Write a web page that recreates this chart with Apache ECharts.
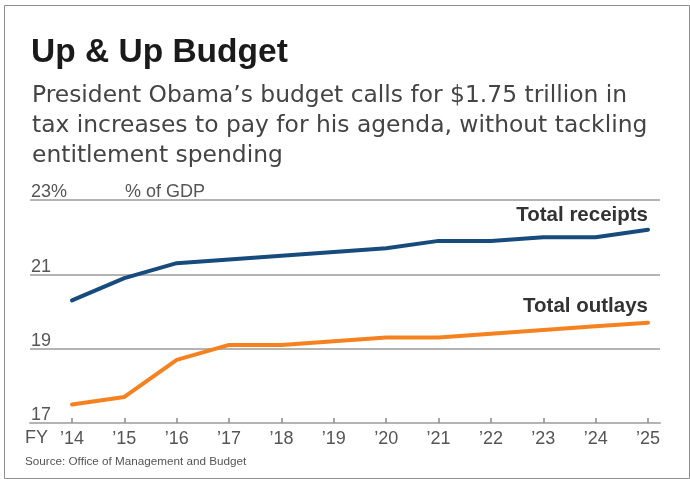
<!DOCTYPE html>
<html>
<head>
<meta charset="utf-8">
<script src="https://cdn.jsdelivr.net/npm/echarts@6/dist/echarts.min.js"></script>
<style>
html,body{margin:0;padding:0;background:#fff;}
#chart{width:690px;height:479px;}
</style>
</head>
<body>
<div id="chart"></div>
<script>
// Data
const years = [14, 15, 16, 17, 18, 19, 20, 21, 22, 23, 24, 25];
const yearLabels = ["’14", "’15", "’16", "’17", "’18", "’19", "’20", "’21", "’22", "’23", "’24", "’25"];
const receipts = [20.3, 20.9, 21.3, 21.4, 21.5, 21.6, 21.7, 21.9, 21.9, 22.0, 22.0, 22.2];
const outlays = [17.5, 17.7, 18.7, 19.1, 19.1, 19.2, 19.3, 19.3, 19.4, 19.5, 19.6, 19.7];
const seriesNames = ["Total receipts", "Total outlays"];

const titleText = "Up & Up Budget";
const subtitleText = "President Obama’s budget calls for $1.75 trillion in\ntax increases to pay for his agenda, without tackling\nentitlement spending";
const unitText = "% of GDP";
const sourceText = "Source: Office of Management and Budget";

const chart = echarts.init(document.getElementById('chart'), null, {renderer: 'canvas'});
const lastIdx = years.length - 1;
function pairs(vals){ return years.map((y, i) => [y, vals[i]]); }

const GRAY = '#b4b4b4';
const LABEL = '#555555';

function seriesLabel(name, dist){
  return {
    show: true, position: 'top', align: 'right', distance: dist,
    fontFamily: 'Liberation Sans', fontWeight: 'bold', fontSize: 20.5, color: '#333333',
    formatter: p => p.dataIndex === lastIdx ? name : ''
  };
}

const option = {
  animation: false,
  backgroundColor: '#ffffff',
  title: [
    {
      text: titleText, left: 26, top: 30,
      textStyle: {fontFamily: 'Liberation Sans', fontWeight: 'bold', fontSize: 33.5, color: '#1a1a1a', lineHeight: 36}
    },
    {
      text: subtitleText, left: 27, top: 76,
      textStyle: {fontFamily: 'DejaVu Sans', fontWeight: 'normal', fontSize: 23.4, color: '#444444', lineHeight: 30}
    }
  ],
  graphic: [
    {type: 'rect', left: 2, top: 3, shape: {width: 685, height: 473}, style: {fill: 'none', stroke: '#8e8e8e', lineWidth: 1}, silent: true},
    {type: 'text', left: 25, top: 429, style: {text: 'FY', fontFamily: 'Liberation Sans', fontSize: 18, fill: LABEL}},
    {type: 'text', left: 25, top: 456, style: {text: sourceText, fontFamily: 'Liberation Sans', fontSize: 11.7, fill: '#555555'}}
  ],
  grid: {left: 30, right: 30, top: 200, bottom: 56, containLabel: false},
  xAxis: {
    type: 'value', min: 13.198, max: 25.229,
    axisLine: {show: true, lineStyle: {color: GRAY, width: 2}},
    axisTick: {show: true, inside: true, length: 5, customValues: years, lineStyle: {color: '#8a8a8a', width: 1.5}},
    axisLabel: {
      show: true, customValues: years, margin: 7,
      fontFamily: 'Liberation Sans', fontSize: 18, color: LABEL,
      formatter: v => yearLabels[years.indexOf(Math.round(v))] || ''
    },
    splitLine: {show: false}
  },
  yAxis: {
    type: 'value', min: 17, max: 23, interval: 2,
    axisLine: {show: false}, axisTick: {show: false},
    splitLine: {show: true, lineStyle: {color: GRAY, width: 2}},
    axisLabel: {
      inside: true, margin: 1, verticalAlign: 'bottom', align: 'left',
      fontFamily: 'Liberation Sans', fontSize: 18, color: LABEL, lineHeight: 15,
      formatter: v => v === 23 ? '{a|23%}{b|' + unitText + '}' : String(v),
      rich: {
        a: {width: 94, fontFamily: 'Liberation Sans', fontSize: 18, color: LABEL, lineHeight: 15},
        b: {fontFamily: 'Liberation Sans', fontSize: 18, color: LABEL, lineHeight: 15}
      }
    }
  },
  series: [
    {
      name: seriesNames[0], type: 'line', data: pairs(receipts),
      symbol: 'circle', symbolSize: 1, showSymbol: true,
      itemStyle: {color: '#174b7d'},
      lineStyle: {color: '#174b7d', width: 4, cap: 'round', join: 'round'},
      label: seriesLabel(seriesNames[0], 3)
    },
    {
      name: seriesNames[1], type: 'line', data: pairs(outlays),
      symbol: 'circle', symbolSize: 1, showSymbol: true,
      itemStyle: {color: '#f5821f'},
      lineStyle: {color: '#f5821f', width: 4, cap: 'round', join: 'round'},
      label: seriesLabel(seriesNames[1], 5)
    }
  ]
};
chart.setOption(option);
</script>
</body>
</html>
